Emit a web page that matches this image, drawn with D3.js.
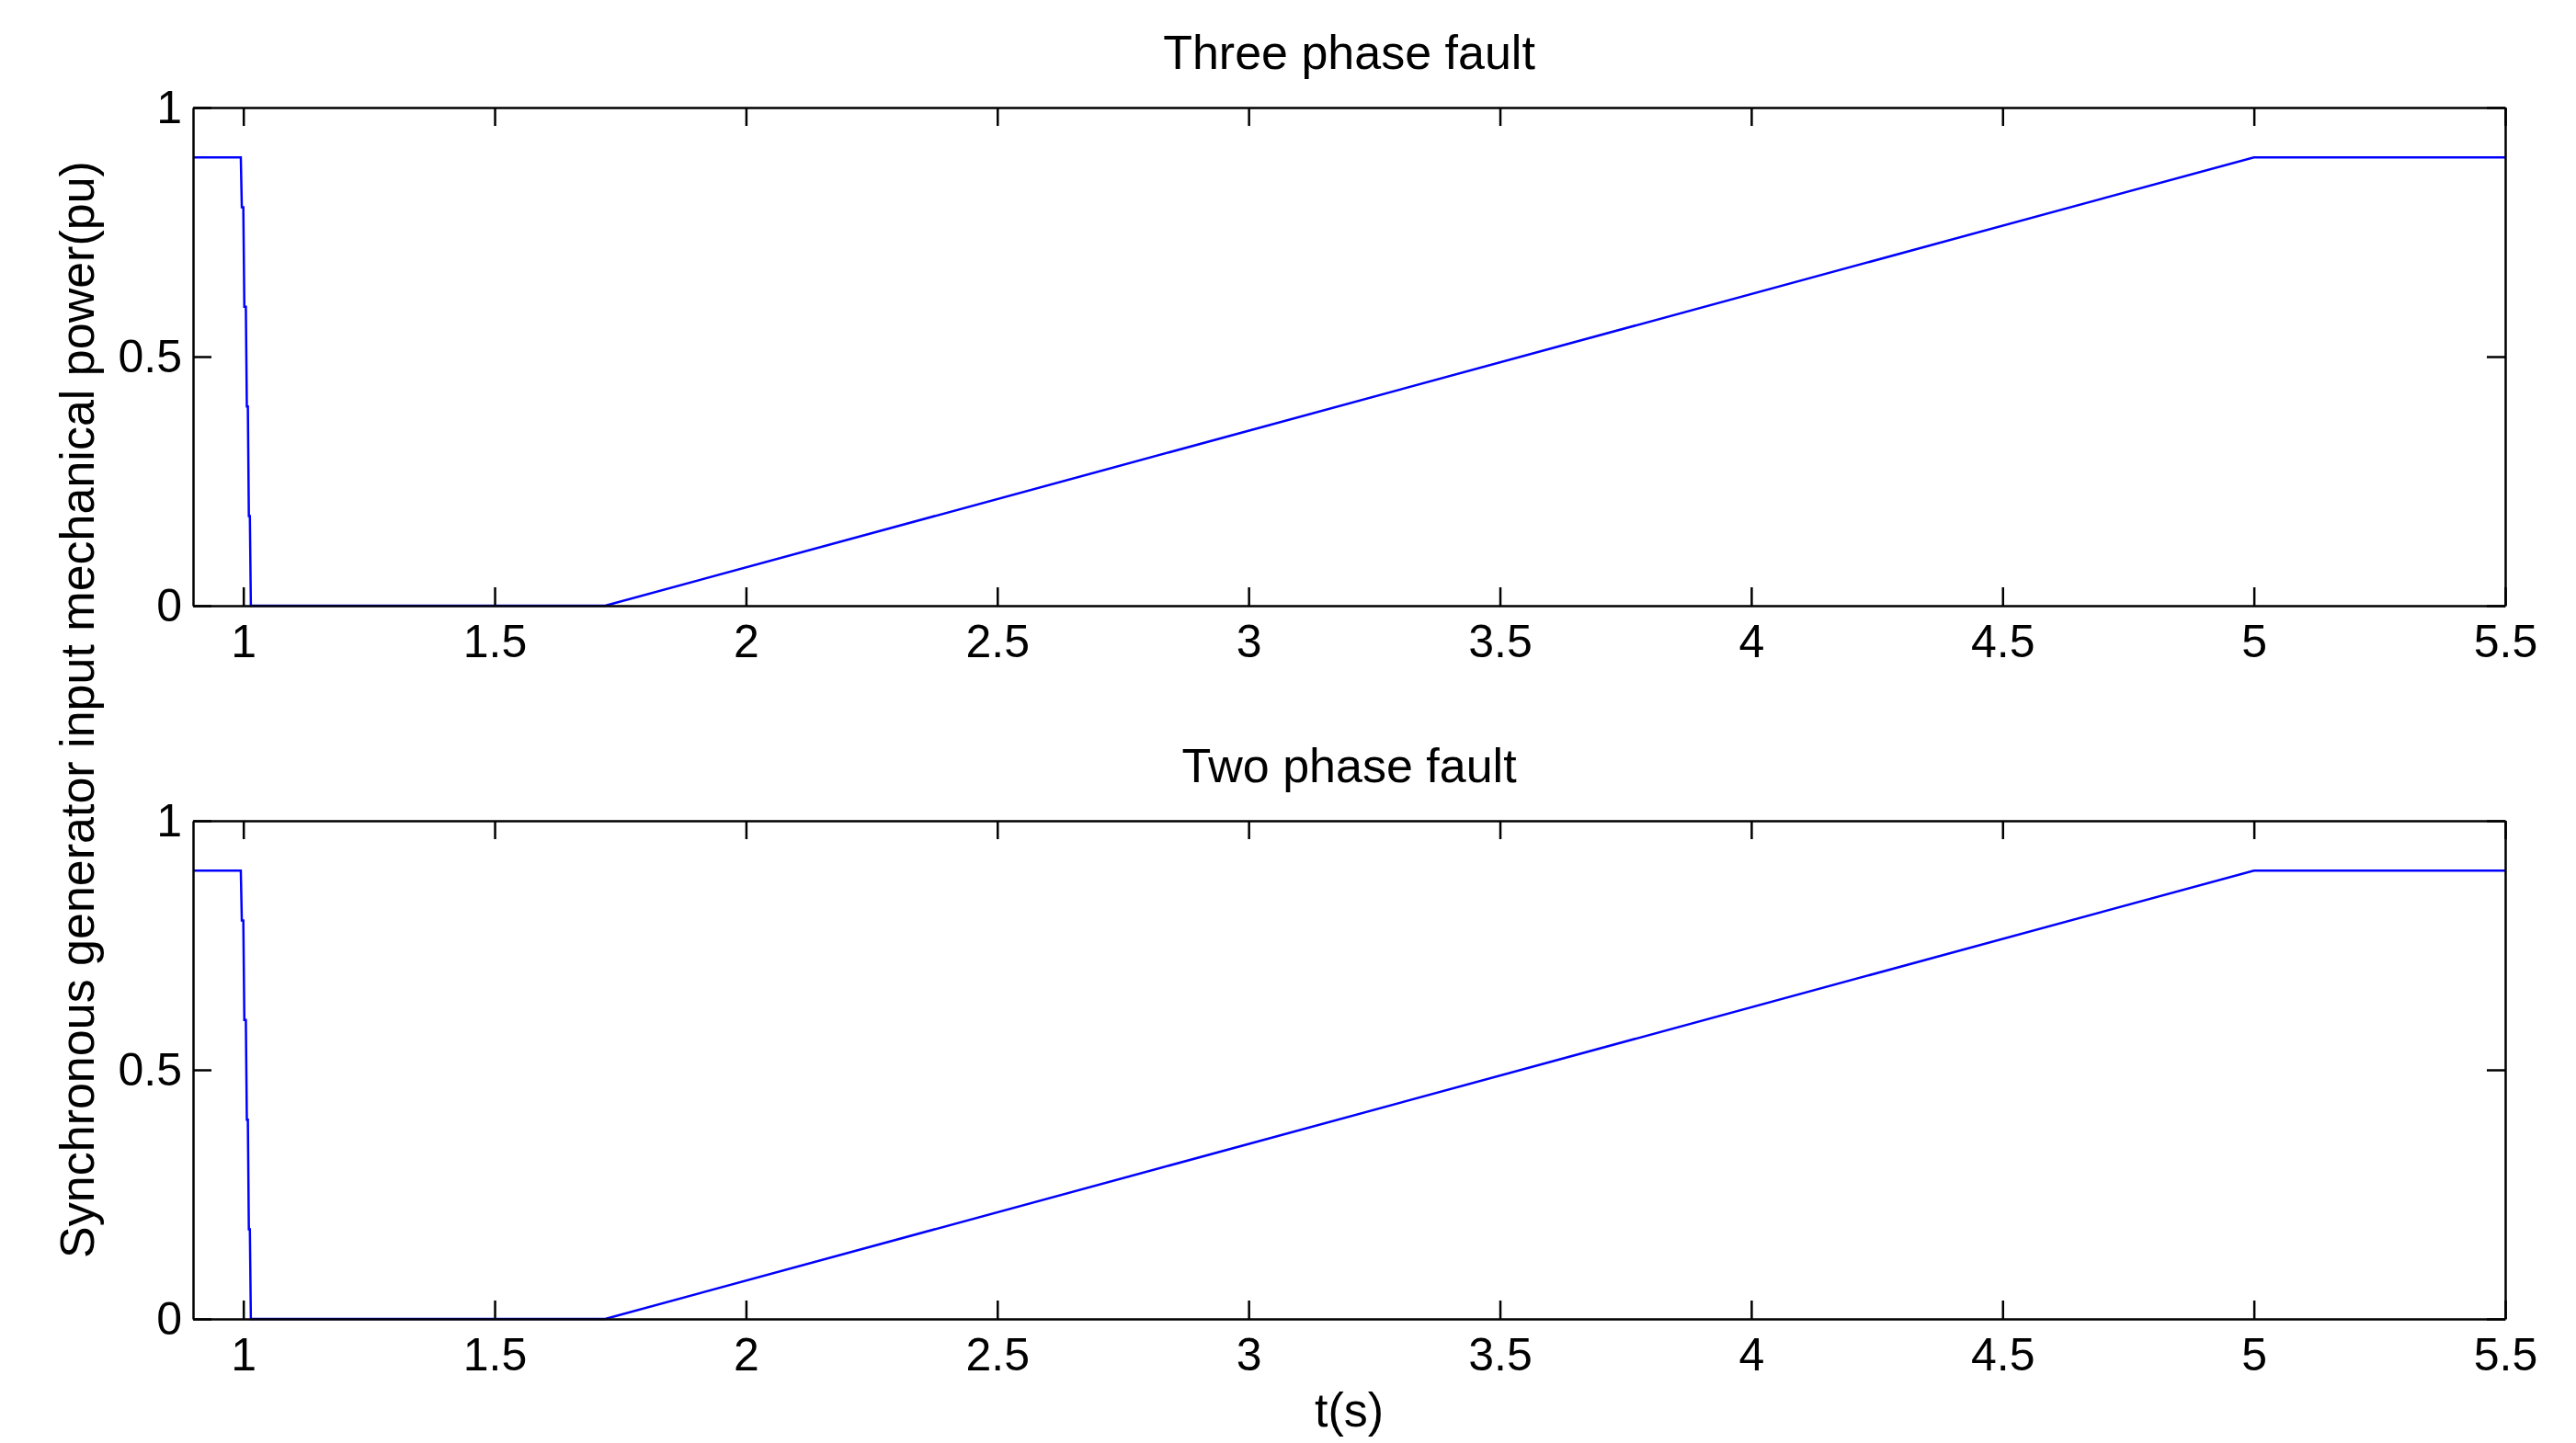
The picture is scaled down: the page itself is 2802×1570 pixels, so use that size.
<!DOCTYPE html>
<html><head><meta charset="utf-8">
<script src="https://cdn.jsdelivr.net/npm/d3@7"></script>
<style>body{margin:0;background:#fff}</style>
</head><body>
<script>
// step response of turbine input power
var tVals = [0.9, 0.995, 0.997, 1.0, 1.002, 1.005, 1.007, 1.009, 1.011, 1.013, 1.015, 1.72, 5.0, 5.5];
var pVals = [0.9, 0.9, 0.8, 0.8, 0.6, 0.6, 0.4, 0.4, 0.18, 0.18, 0, 0, 0.9, 0.9];
var titles = ["Three phase fault", "Two phase fault"];
var xTicks = [1, 1.5, 2, 2.5, 3, 3.5, 4, 4.5, 5, 5.5];
var yTicks = [0, 0.5, 1];

var W = 2802, H = 1570;
var left = 210, right = 2725;
var tops = [117, 893], plotH = 542;
var font = "'Liberation Sans', Arial, sans-serif";

var svg = d3.select("body").append("svg").attr("width", W).attr("height", H);

var x = d3.scaleLinear().domain([0.9, 5.5]).range([left, right]);
var data = tVals.map(function(t, i){ return [t, pVals[i]]; });

titles.forEach(function(title, k){
    var top = tops[k];
    var y = d3.scaleLinear().domain([0, 1]).range([top + plotH, top]);
    var g = svg.append("g");

    g.append("path").datum(data)
        .attr("fill", "none").attr("stroke", "#0000ff").attr("stroke-width", 2.5)
        .attr("d", d3.line().x(d => x(d[0])).y(d => y(d[1])));

    var xAxis = g.append("g").attr("transform", "translate(0," + (top + plotH) + ")")
        .call(d3.axisBottom(x).tickValues(xTicks).tickFormat(d3.format("")).tickSizeInner(-20).tickSizeOuter(0).tickPadding(20));
    var xTop = g.append("g").attr("transform", "translate(0," + top + ")")
        .call(d3.axisTop(x).tickValues(xTicks).tickFormat("").tickSizeInner(-20).tickSizeOuter(0));
    var yAxis = g.append("g").attr("transform", "translate(" + left + ",0)")
        .call(d3.axisLeft(y).tickValues(yTicks).tickFormat(d3.format("")).tickSizeInner(-20).tickSizeOuter(0).tickPadding(12));
    var yRight = g.append("g").attr("transform", "translate(" + right + ",0)")
        .call(d3.axisRight(y).tickValues(yTicks).tickFormat("").tickSizeInner(-20).tickSizeOuter(0));

    [xAxis, xTop, yAxis, yRight].forEach(function(a){
        a.selectAll("path").attr("stroke", "#000").attr("stroke-width", 2.5);
        a.selectAll("line").attr("stroke", "#000").attr("stroke-width", 2.5);
        a.selectAll("text").attr("font-family", font).attr("font-size", "50px").attr("fill", "#000");
    });

    g.append("text")
        .attr("x", (left + right) / 2).attr("y", top - 42)
        .attr("text-anchor", "middle").attr("font-family", font).attr("font-size", "52px")
        .text(title);
});

svg.append("text")
    .attr("x", (left + right) / 2).attr("y", 1552)
    .attr("text-anchor", "middle").attr("font-family", font).attr("font-size", "52px")
    .text("t(s)");

svg.append("text")
    .attr("transform", "translate(102," + 772 + ")rotate(-90)")
    .attr("text-anchor", "middle").attr("font-family", font).attr("font-size", "52px")
    .text("Synchronous generator input mechanical power(pu)");
</script>
</body></html>
